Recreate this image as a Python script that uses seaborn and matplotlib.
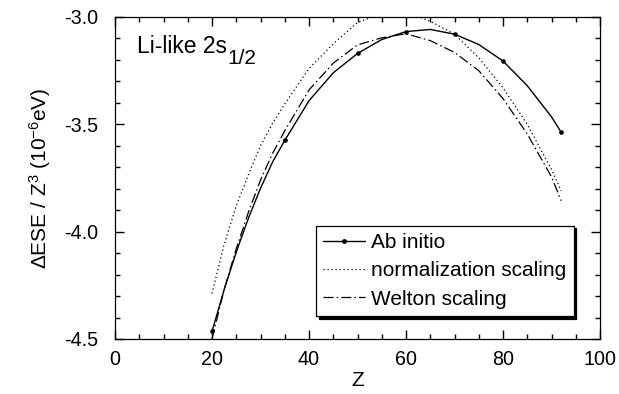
import numpy as np
import pandas as pd
import seaborn as sns
import matplotlib.pyplot as plt
from matplotlib.lines import Line2D

# Ab initio calculated points
z_points = [20, 35, 50, 60, 70, 80, 92]
e_points = [-4.465, -3.575, -3.170, -3.068, -3.080, -3.205, -3.537]

# curves
z_ab = [20, 22.5, 25, 27.5, 30, 32.5, 35, 40, 45, 50, 55, 60, 65, 70, 75, 80, 85, 90, 92]
e_ab = [-4.465, -4.27, -4.095, -3.938, -3.798, -3.675, -3.575, -3.39, -3.26, -3.17,
        -3.105, -3.068, -3.058, -3.08, -3.128, -3.205, -3.32, -3.465, -3.537]

z_norm = [20, 22.5, 25, 27.5, 30, 32.5, 35, 40, 45, 50, 55, 60, 65, 70, 75, 80, 85, 90, 92]
e_norm = [-4.288, -4.06, -3.88, -3.735, -3.60, -3.495, -3.405, -3.24, -3.125, -3.025,
          -2.985, -2.975, -3.02, -3.08, -3.19, -3.33, -3.50, -3.71, -3.81]

z_welton = [20, 22.5, 25, 27.5, 30, 32.5, 35, 40, 45, 50, 55, 60, 65, 70, 75, 80, 85, 90, 92]
e_welton = [-4.50, -4.27, -4.08, -3.91, -3.76, -3.635, -3.53, -3.34, -3.215, -3.13,
            -3.097, -3.078, -3.11, -3.165, -3.25, -3.38, -3.545, -3.745, -3.856]

labels = ["Ab initio", "normalization scaling", "Welton scaling"]

sns.set_style("ticks", {"xtick.direction": "in", "ytick.direction": "in"})
plt.rcParams['font.family'] = ['Liberation Sans', 'DejaVu Sans']
plt.rcParams['mathtext.fontset'] = 'custom'
plt.rcParams['mathtext.rm'] = 'Liberation Sans'
plt.rcParams['mathtext.it'] = 'Liberation Sans:italic'
plt.rcParams['axes.unicode_minus'] = False
plt.rcParams['text.color'] = 'black'
plt.rcParams['axes.labelcolor'] = 'black'

fig = plt.figure(figsize=(6.19, 3.94), dpi=100)
ax = fig.add_axes([115 / 619, 55 / 394, 485 / 619, 322 / 394])

dot_style = (0, (1, 2.2))
dash_style = (0, (8, 2.5, 1.2, 2.5))

sns.lineplot(x=z_norm, y=e_norm, ax=ax, color='k', lw=0.9, ls=dot_style)
sns.lineplot(x=z_welton, y=e_welton, ax=ax, color='k', lw=0.9, ls=dash_style)
sns.lineplot(x=z_ab, y=e_ab, ax=ax, color='k', lw=1.0)
sns.scatterplot(x=z_points, y=e_points, ax=ax, color='k', s=9, edgecolor='k', linewidth=0.3, zorder=5)

ax.set_xlim(0, 100)
ax.set_ylim(-4.5, -3.0)
ax.set_xticks([0, 20, 40, 60, 80, 100])
ax.set_yticks([-4.5, -4.0, -3.5, -3.0])
ax.set_yticklabels(["-4.5", "-4.0", "-3.5", "-3.0"])
ax.set_xticks(np.arange(0, 101, 5), minor=True)
ax.set_yticks(np.arange(-4.5, -2.99, 0.1), minor=True)
ax.tick_params(which='both', direction='in', top=True, right=True,
               bottom=True, left=True, color='black', labelcolor='black',
               width=1.0, zorder=10)
ax.tick_params(which='major', length=6.5)
ax.tick_params(which='minor', length=3.5)
ax.tick_params(axis='x', labelsize=14.2, pad=8)
ax.tick_params(axis='y', labelsize=14.2, pad=12)
for sp in ax.spines.values():
    sp.set_visible(True)
    sp.set_linewidth(0.9)
    sp.set_color('k')

ax.set_xlabel("Z", fontsize=15, labelpad=1)
ax.set_ylabel(r"$\Delta$ESE / Z$^3$ (10$^{-6}$eV)", fontsize=15, labelpad=8)

t1 = ax.text(0.045, 0.888, "Li-like 2s", transform=ax.transAxes,
             fontsize=16.5, va='baseline', ha='left')
ax.annotate("1/2", xy=(1, 0), xycoords=t1, xytext=(0.5, -4.5),
            textcoords='offset points', fontsize=15, va='baseline', ha='left')

handles = [
    Line2D([], [], color='k', lw=1.0, marker='o', markersize=2.5),
    Line2D([], [], color='k', lw=0.9, ls=dot_style),
    Line2D([], [], color='k', lw=0.9, ls=dash_style),
]
leg = ax.legend(handles, labels, loc='upper left', bbox_to_anchor=(0.414, 0.352),
                borderaxespad=0, fontsize=15, frameon=True, fancybox=False,
                shadow={'color': 'k', 'alpha': 1.0}, handlelength=2.0,
                handletextpad=0.3, labelspacing=0.45, borderpad=0.35, numpoints=1)
leg.get_frame().set_edgecolor('k')
leg.get_frame().set_linewidth(0.9)
leg.get_frame().set_alpha(1.0)

plt.savefig("out.png", dpi=100)
